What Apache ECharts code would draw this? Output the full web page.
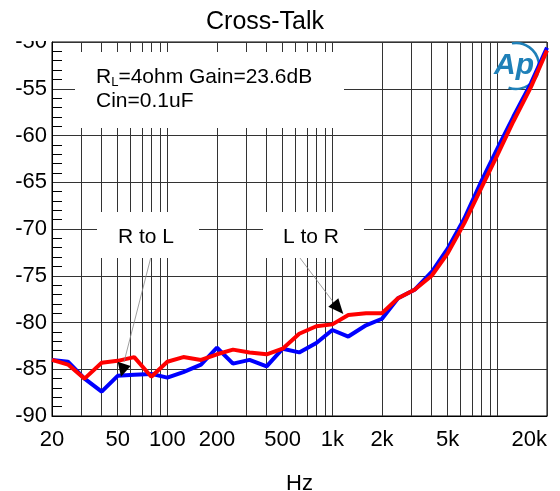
<!DOCTYPE html>
<html>
<head>
<meta charset="utf-8">
<title>Cross-Talk</title>
<script src="https://cdn.jsdelivr.net/npm/echarts@6/dist/echarts.min.js"></script>
<style>
  body { margin: 0; background: #fff; }
  #main { width: 560px; height: 491px; }
</style>
</head>
<body>
<div id="main"></div>
<script>
// frequency points (Hz)
var freqs = [20, 25, 31.5, 40, 50, 63, 80, 100, 125, 160, 200, 250, 315, 400, 500, 630,
             800, 1000, 1250, 1600, 2000, 2500, 3150, 4000, 5000, 6300, 8000, 10000,
             12500, 16000, 20000];
// crosstalk (dB)
var rToL = [-84.0, -84.2, -86.0, -87.4, -85.7, -85.6, -85.5, -85.9, -85.3, -84.5, -82.7,
            -84.4, -84.0, -84.7, -82.8, -83.2, -82.2, -80.8, -81.5, -80.3, -79.6, -77.4,
            -76.5, -74.6, -72.1, -68.9, -64.9, -61.4, -58.0, -54.4, -50.6];
var lToR = [-84.0, -84.5, -86.0, -84.3, -84.1, -83.7, -85.8, -84.2, -83.7, -84.0, -83.4,
            -82.9, -83.2, -83.4, -82.8, -81.2, -80.4, -80.2, -79.2, -79.0, -79.0, -77.4,
            -76.5, -75.0, -72.6, -69.4, -65.6, -62.1, -58.5, -54.8, -50.9];
// axis grid and labels
var gridFreqs = [20, 30, 40, 50, 60, 70, 80, 90, 100, 200, 300, 400, 500, 600, 700, 800, 900,
                 1000, 2000, 3000, 4000, 5000, 6000, 7000, 8000, 9000, 10000, 20000];
var labelFreqs = [20, 50, 100, 200, 500, 1000, 2000, 5000, 20000];

function pairs(xs, ys) {
    return xs.map(function (x, i) { return [x, ys[i]]; });
}

var FONT = "'Liberation Sans', Arial, sans-serif";
var chart = echarts.init(document.getElementById('main'));

var option = {
    animation: false,
    backgroundColor: '#fff',
    title: {
        text: 'Cross-Talk',
        left: 201,
        top: 5,
        textStyle: { fontFamily: FONT, fontSize: 25, fontWeight: 'normal', color: '#000' }
    },
    grid: {
        left: 52, right: 13, top: 42, bottom: 75,
        outerBoundsMode: 'none',
        containLabel: false,
        show: true, borderColor: '#000', borderWidth: 1
    },
    xAxis: {
        type: 'log',
        logBase: 10,
        min: 20,
        max: 20000,
        name: 'Hz',
        nameLocation: 'middle',
        nameGap: 57,
        nameTextStyle: { fontFamily: FONT, fontSize: 22, color: '#000' },
        axisLine: { lineStyle: { color: '#000', width: 1 } },
        axisTick: { show: false, customValues: gridFreqs },
        axisLabel: {
            customValues: labelFreqs,
            alignMaxLabel: 'right',
            fontFamily: FONT, fontSize: 22, color: '#000', margin: 13,
            formatter: function (v) { return v >= 1000 ? (v / 1000) + 'k' : String(v); }
        },
        splitLine: { show: true, lineStyle: { color: '#333', width: 1 } }
    },
    yAxis: {
        type: 'value',
        min: -90,
        max: -50,
        interval: 5,
        axisLine: { show: true, lineStyle: { color: '#000', width: 1 } },
        axisTick: { show: false, inside: true },
        minorTick: { show: true, splitNumber: 5, length: 10, lineStyle: { color: '#000', width: 1 } },
        axisLabel: { fontFamily: FONT, fontSize: 22, color: '#000', margin: 5 },
        splitLine: { show: true, lineStyle: { color: '#333', width: 1 } }
    },
    series: [
        {
            name: 'R to L', type: 'line', data: pairs(freqs, rToL),
            symbol: 'none', lineStyle: { color: '#0000ff', width: 4 }, z: 3
        },
        {
            name: 'L to R', type: 'line', data: pairs(freqs, lToR),
            symbol: 'none', lineStyle: { color: '#ff0000', width: 4 }, z: 4
        }
    ],
    graphic: [
        // clip the top label like the original
        { type: 'rect', shape: { x: 0, y: 0, width: 51, height: 41 }, style: { fill: '#fff' }, z: 100 },
        // condition box
        { type: 'rect', shape: { x: 75, y: 52, width: 269, height: 76 }, style: { fill: '#fff' }, z: 50 },
        {
            type: 'text', z: 51, x: 96, y: 77,
            style: {
                text: 'R{sub|L}=4ohm Gain=23.6dB',
                font: '21px ' + FONT, fill: '#000', verticalAlign: 'middle',
                rich: { sub: { fontSize: 13, fontFamily: FONT, padding: [11, 0, 0, 0] } }
            }
        },
        {
            type: 'text', z: 51, x: 96, y: 101,
            style: { text: 'Cin=0.1uF', font: '21px ' + FONT, fill: '#000', verticalAlign: 'middle' }
        },
        // R to L label
        { type: 'rect', shape: { x: 97, y: 212, width: 102, height: 46 }, style: { fill: '#fff' }, z: 50 },
        {
            type: 'text', z: 51, x: 146, y: 237,
            style: { text: 'R to L', font: '21px ' + FONT, fill: '#000', align: 'center', verticalAlign: 'middle' }
        },
        { type: 'line', z: 52, shape: { x1: 150.7, y1: 258, x2: 124, y2: 362 }, style: { stroke: '#888', lineWidth: 0.8 } },
        { type: 'polygon', z: 52, shape: { points: [[117.7, 361.7], [130.7, 366], [121, 376.7]] }, style: { fill: '#000' } },
        // L to R label
        { type: 'rect', shape: { x: 263, y: 212, width: 101, height: 46 }, style: { fill: '#fff' }, z: 50 },
        {
            type: 'text', z: 51, x: 311, y: 237,
            style: { text: 'L to R', font: '21px ' + FONT, fill: '#000', align: 'center', verticalAlign: 'middle' }
        },
        { type: 'line', z: 52, shape: { x1: 300, y1: 258, x2: 334, y2: 303 }, style: { stroke: '#888', lineWidth: 0.8 } },
        { type: 'polygon', z: 52, shape: { points: [[328.3, 306.7], [338.3, 298.3], [343.3, 314]] }, style: { fill: '#000' } },
        // Ap logo
        {
            type: 'arc', z: 1,
            shape: { cx: 516, cy: 66, r: 23, startAngle: -1.75, endAngle: 1.9 },
            style: { stroke: '#1f80b8', lineWidth: 2.5, fill: null }
        },
        {
            type: 'text', z: 1, x: 514, y: 66,
            style: { text: 'Ap', font: 'italic bold 30px ' + FONT, fill: '#1f80b8', align: 'center', verticalAlign: 'middle' }
        }
    ]
};

chart.setOption(option);
</script>
</body>
</html>
